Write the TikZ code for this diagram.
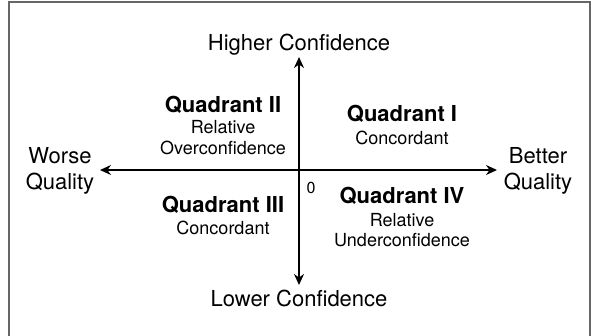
\documentclass[tikz,border=0pt]{standalone}
\usepackage{fontspec}
\setmainfont{TeX Gyre Heros}
\usetikzlibrary{arrows.meta}

\tikzset{
  axislabel/.style={anchor=base, font=\fontsize{22}{26}\selectfont},
  quadname/.style={anchor=base, font=\fontsize{22}{26}\selectfont\bfseries},
  quadnote/.style={anchor=base, font=\fontsize{18}{21}\selectfont},
  axisline/.style={line width=1.6pt, {Stealth[length=11pt,width=10pt]}-{Stealth[length=11pt,width=10pt]}},
}

\begin{document}
\begin{tikzpicture}[x=1pt,y=-1pt]
\clip (0,0) rectangle (591,335);
\fill[white] (0,0) rectangle (591,335);
\draw[black!60, line width=1.5pt] (9,2) rectangle (590,345);

% axes
\coordinate (west) at (100,170);
\coordinate (east) at (497,170);
\coordinate (north) at (299,57);
\coordinate (south) at (299,285);
\draw[axisline] (west) -- (east);
\draw[axisline] (north) -- (south);

\node[axislabel] (higher) at (299,50) {Higher Confidence};
\node[axislabel] (lower) at (299,306) {Lower Confidence};
\node[axislabel] (worse) at (60,163) {Worse};
\node[axislabel] (worseq) at (60,189) {Quality};
\node[axislabel] (better) at (538,163) {Better};
\node[axislabel] (betterq) at (538,189) {Quality};
\node[anchor=base, font=\fontsize{16}{18}\selectfont] (zero) at (311,193) {0};

% quadrants
\node[quadname] (q1) at (402,121) {Quadrant I};
\node[quadnote] (q1a) at (402,144.5) {Concordant};

\node[quadname] (q2) at (223,112) {Quadrant II};
\node[quadnote] (q2a) at (223,133.5) {Relative};
\node[quadnote] (q2b) at (223,154.5) {Overconfidence};

\node[quadname] (q3) at (223,212) {Quadrant III};
\node[quadnote] (q3a) at (223,234.5) {Concordant};

\node[quadname] (q4) at (402,203) {Quadrant IV};
\node[quadnote] (q4a) at (402,226.5) {Relative};
\node[quadnote] (q4b) at (402,246.5) {Underconfidence};
\end{tikzpicture}
\end{document}
